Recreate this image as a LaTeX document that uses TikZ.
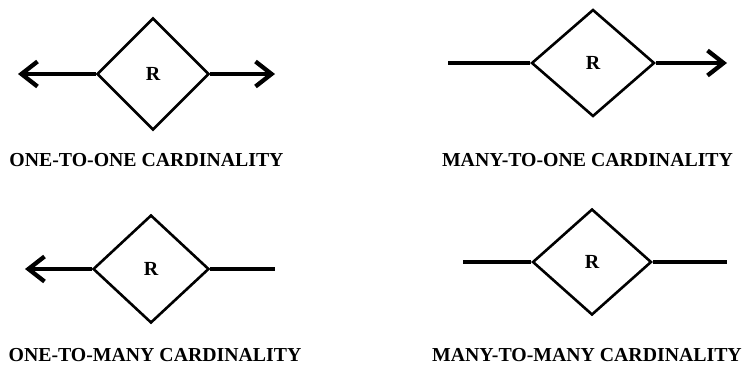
\documentclass[tikz,border=0pt]{standalone}
\usepackage{fontspec}
\setmainfont{Liberation Serif}
\usetikzlibrary{shapes.geometric,arrows.meta}
\begin{document}
\begin{tikzpicture}[x=1pt,y=-1pt,
  rel/.style={draw=black,line width=2.6pt,shape=diamond,inner sep=0pt,
    font=\fontsize{20}{20}\selectfont\bfseries},
  link/.style={draw=black,line width=4.3pt},
  arr/.style={link,-{Straight Barb[length=16pt,width=25pt,line width=4.3pt]}},
  caption/.style={font=\fontsize{19.8}{20}\selectfont\bfseries,inner sep=0pt}]
\useasboundingbox (0,0) rectangle (747,365);

% one-to-one
\node[rel,minimum width=112pt,minimum height=112pt] (d1) at (153,74) {R};
\coordinate (l1) at (18,74);
\coordinate (r1) at (275,74);
\draw[arr] (d1.west) -- (l1);
\draw[arr] (d1.east) -- (r1);
\node[caption] (t1) at (146.5,160) {ONE-TO-ONE CARDINALITY};

% many-to-one
\node[rel,minimum width=123pt,minimum height=107pt] (d2) at (593,63) {R};
\coordinate (l2) at (448,63);
\coordinate (r2) at (727,63);
\draw[link] (d2.west) -- (l2);
\draw[arr] (d2.east) -- (r2);
\node[caption] (t2) at (587.5,160) {MANY-TO-ONE CARDINALITY};

% one-to-many
\node[rel,minimum width=116pt,minimum height=108pt] (d3) at (151,269) {R};
\coordinate (l3) at (25,269);
\coordinate (r3) at (275,269);
\draw[arr] (d3.west) -- (l3);
\draw[link] (d3.east) -- (r3);
\node[caption] (t3) at (155,355) {ONE-TO-MANY CARDINALITY};

% many-to-many
\node[rel,minimum width=119pt,minimum height=106pt] (d4) at (592,262) {R};
\coordinate (l4) at (463,262);
\coordinate (r4) at (727,262);
\draw[link] (d4.west) -- (l4);
\draw[link] (d4.east) -- (r4);
\node[caption] (t4) at (587,355) {MANY-TO-MANY CARDINALITY};
\end{tikzpicture}
\end{document}
